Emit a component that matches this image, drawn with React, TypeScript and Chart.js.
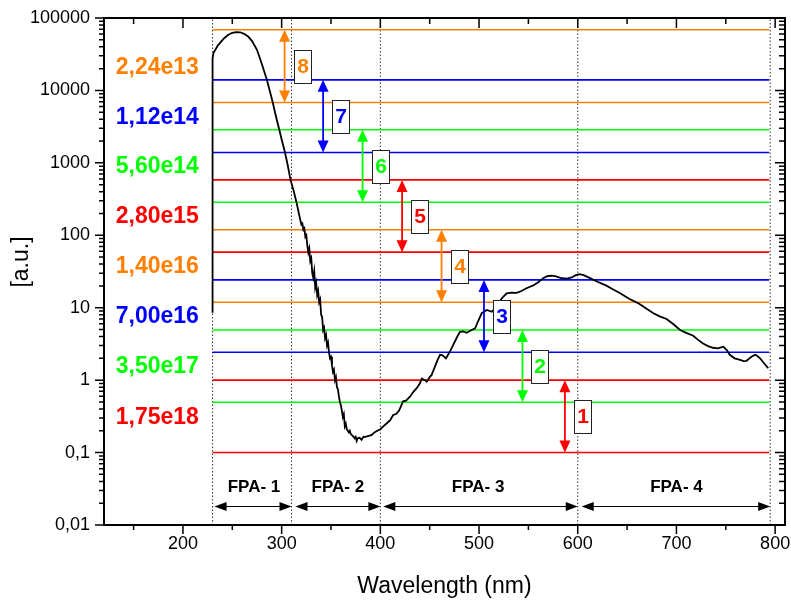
import { useEffect, useRef } from "react";
import { Chart, registerables } from "chart.js";

Chart.register(...registerables);

// ---- Data ----
const wavelength = [
  230, 230, 231, 235, 238, 242, 246, 250, 254, 258, 262, 266, 270, 275, 280, 285, 288, 291, 294, 297.6,
  300, 303.4, 306, 309, 312, 315, 318.6, 320, 321, 322, 323, 324, 325, 326, 327, 328, 329, 330, 331, 332,
  333, 334, 335, 336, 337, 338, 339, 340, 341, 342, 343, 344, 345, 346, 347, 348, 349, 350, 351, 352,
  353, 354, 355, 356, 357, 358, 359, 360, 361, 362, 363, 364, 365, 366, 368, 369, 370, 372, 374, 375,
  376, 377, 379, 381, 383, 385, 388, 391, 394, 397, 400, 403, 406, 410, 413, 416, 419, 423, 426, 430,
  433.5, 437, 440, 442, 445, 447, 450, 452, 455, 458, 460.5, 463, 466.5, 470.6, 474, 478, 480.7, 484, 487.5, 491,
  496, 499, 502.7, 507.8, 512.9, 518, 523, 528, 533, 538, 543, 548, 555, 560, 565, 569, 573.7, 578, 584, 589,
  594, 598, 602, 606, 612.5, 620, 629, 636, 643, 652, 661.5, 669, 676.7, 683, 690, 697, 703.7, 710, 717, 722,
  727, 732, 737, 742, 747.6, 751, 754, 759, 764.5, 768, 771, 776, 779.7, 782, 784.8, 789, 793,
];
const intensity = [
  8.5, 27900, 33000, 41000, 46000, 53000, 58600, 62500, 64000, 63500, 60500, 55500, 48000, 36400, 23000, 14000, 9800, 6800, 4500, 2860,
  2100, 1390, 950, 582, 420, 286, 170, 140, 145, 119, 125, 95, 100, 72, 58, 66, 44, 48, 30, 26,
  32, 19, 22, 15, 17, 11.9, 13, 8, 7.5, 4.9, 5.3, 3.8, 4.2, 3.0, 3.3, 2.4, 2.0, 2.1, 1.6, 1.3,
  1.4, 1.0, 1.1, 0.8, 0.75, 0.6, 0.5, 0.45, 0.38, 0.31, 0.34, 0.23, 0.25, 0.21, 0.19, 0.2, 0.18, 0.17, 0.158, 0.165,
  0.145, 0.158, 0.16, 0.15, 0.166, 0.165, 0.17, 0.174, 0.19, 0.2, 0.21, 0.23, 0.25, 0.28, 0.33, 0.34, 0.38, 0.51, 0.52, 0.59,
  0.69, 0.78, 0.9, 1.05, 1.0, 0.95, 1.1, 1.18, 1.5, 1.9, 2.24, 2.2, 2.0, 2.5, 3.1, 4.0, 4.65, 4.7, 4.5, 4.8,
  5.2, 6.5, 8.4, 9.3, 8.8, 10.5, 13.5, 15.8, 16.2, 16.0, 17.0, 18.6, 20.3, 22.5, 25.6, 27.2, 27.8, 27.0, 25.5, 25.2,
  26.2, 28.2, 29, 28.2, 25.6, 22.8, 20.2, 17.8, 15.8, 13.3, 11.5, 9.8, 8.4, 7.6, 7.0, 5.9, 4.93, 4.5, 4.1, 3.6,
  3.2, 2.95, 2.8, 2.75, 2.9, 2.6, 2.24, 2.0, 1.9, 1.83, 1.85, 2.1, 2.24, 2.15, 2.0, 1.7, 1.46,
];

const xTickValues = [200, 300, 400, 500, 600, 700, 800];
const xMinorTickValues = [150, 250, 350, 450, 550, 650, 750];
const yTickValues = [0.01, 0.1, 1, 10, 100, 1000, 10000, 100000];

// level pairs, bottom (1) to top (8)
const pairNumbers = ["1", "2", "3", "4", "5", "6", "7", "8"];
const doseLabels = ["1,75e18", "3,50e17", "7,00e16", "1,40e16", "2,80e15", "5,60e14", "1,12e14", "2,24e13"];
const levelLow = [0.1, 0.495, 2.43, 11.9, 58.5, 286, 1387, 6800];
const levelHigh = [1.0, 4.93, 24.2, 119, 582, 2860, 14000, 68700];
const levelColors = ["#ff0000", "#00ff00", "#0000ff", "#ff8000", "#ff0000", "#00ff00", "#0000ff", "#ff8000"];
const arrowX = [587, 544, 505, 462, 422, 382, 342, 303];
const doseLabelX = 174;
const levelLineStart = 230;
const levelLineEnd = 794;

const regionBounds = [230, 310, 400, 600, 795];
const fpaNames = ["FPA- 1", "FPA- 2", "FPA- 3", "FPA- 4"];
const fpaStart = [232, 314, 403, 604];
const fpaEnd = [310, 400, 600, 795];
const fpaLabelX = [272, 357, 499, 700];
const fpaLabelY = 0.033;
const fpaArrowY = 0.018;

const FONT = "'Liberation Sans', Arial, sans-serif";

function drawHead(ctx: CanvasRenderingContext2D, tx: number, ty: number, dx: number, dy: number, len: number, half: number) {
  const bx = tx - dx * len;
  const by = ty - dy * len;
  const nx = -dy;
  const ny = dx;
  ctx.beginPath();
  ctx.moveTo(tx, ty);
  ctx.lineTo(bx + nx * half, by + ny * half);
  ctx.lineTo(bx - nx * half, by - ny * half);
  ctx.closePath();
  ctx.fill();
}

const annotatePlugin = {
  id: "annotate",
  afterDatasetsDraw(chart: any) {
    const { ctx, scales } = chart;
    const x = scales.x;
    const y = scales.y;
    ctx.save();
    for (let i = 0; i < pairNumbers.length; i++) {
      const color = levelColors[i];
      const px = x.getPixelForValue(arrowX[i]);
      const yTop = y.getPixelForValue(levelHigh[i]);
      const yBot = y.getPixelForValue(levelLow[i]);
      const headL = 12;
      ctx.strokeStyle = color;
      ctx.fillStyle = color;
      ctx.lineWidth = 1.8;
      ctx.beginPath();
      ctx.moveTo(px, yTop + headL - 1);
      ctx.lineTo(px, yBot - headL + 1);
      ctx.stroke();
      drawHead(ctx, px, yTop, 0, -1, headL, 5.5);
      drawHead(ctx, px, yBot, 0, 1, headL, 5.5);

      const ym = y.getPixelForValue(Math.sqrt(levelLow[i] * levelHigh[i]));
      const bx = Math.round(px + 9) + 0.5;
      const bw = 17;
      const bh = 33;
      const by = Math.round(ym - bh / 2) + 0.5;
      ctx.fillStyle = "#ffffff";
      ctx.fillRect(bx, by, bw, bh);
      ctx.strokeStyle = "#222222";
      ctx.lineWidth = 1;
      ctx.strokeRect(bx, by, bw, bh);
      ctx.fillStyle = color;
      ctx.font = `bold 21px ${FONT}`;
      ctx.textAlign = "center";
      ctx.textBaseline = "middle";
      ctx.fillText(pairNumbers[i], bx + bw / 2, ym + 1);

      ctx.font = `bold 23px ${FONT}`;
      ctx.fillText(doseLabels[i], x.getPixelForValue(doseLabelX), ym + 1);
    }

    ctx.fillStyle = "#000";
    ctx.strokeStyle = "#000";
    for (let i = 0; i < fpaNames.length; i++) {
      const ay = y.getPixelForValue(fpaArrowY);
      const x0 = x.getPixelForValue(fpaStart[i]);
      const x1 = x.getPixelForValue(fpaEnd[i]);
      ctx.lineWidth = 1.2;
      ctx.beginPath();
      ctx.moveTo(x0 + 10, ay);
      ctx.lineTo(x1 - 10, ay);
      ctx.stroke();
      drawHead(ctx, x0, ay, -1, 0, 12, 4.5);
      drawHead(ctx, x1, ay, 1, 0, 12, 4.5);
      ctx.font = `bold 17px ${FONT}`;
      ctx.textAlign = "center";
      ctx.textBaseline = "middle";
      ctx.fillText(fpaNames[i], x.getPixelForValue(fpaLabelX[i]), y.getPixelForValue(fpaLabelY));
    }
    ctx.restore();
  },
  afterDraw(chart: any) {
    const { ctx, chartArea, scales } = chart;
    const x = scales.x;
    const y = scales.y;
    const { left, right, top, bottom } = chartArea;
    ctx.save();
    ctx.strokeStyle = "#000";
    ctx.lineWidth = 2;
    ctx.strokeRect(left, top, right - left, bottom - top);
    ctx.lineWidth = 1.5;
    ctx.beginPath();
    const xt = (v: number, len: number) => {
      const p = x.getPixelForValue(v);
      ctx.moveTo(p, bottom);
      ctx.lineTo(p, bottom + len);
      ctx.moveTo(p, top);
      ctx.lineTo(p, top + len + 1);
    };
    xTickValues.forEach((v) => xt(v, 9));
    xMinorTickValues.forEach((v) => xt(v, 5));
    const yt = (v: number, len: number) => {
      const p = y.getPixelForValue(v);
      ctx.moveTo(left, p);
      ctx.lineTo(left - len, p);
      ctx.moveTo(right, p);
      ctx.lineTo(right - len - 1, p);
    };
    for (let d = 0; d < yTickValues.length; d++) {
      const base = yTickValues[d];
      yt(base, 9);
      if (d < yTickValues.length - 1) {
        for (let m = 2; m <= 9; m++) yt(base * m, 5);
      }
    }
    ctx.stroke();

    ctx.translate(22, 262);
    ctx.rotate(-Math.PI / 2);
    ctx.fillStyle = "#000";
    ctx.font = `23px ${FONT}`;
    ctx.textAlign = "center";
    ctx.textBaseline = "middle";
    ctx.fillText("[a.u.]", 0, 0);
    ctx.restore();
  },
};

export default function App() {
  const canvasRef = useRef<HTMLCanvasElement | null>(null);

  useEffect(() => {
    const canvas = canvasRef.current;
    if (!canvas) return;

    const datasets: any[] = [];
    datasets.push({
      label: "spectrum",
      data: wavelength.map((w, i) => ({ x: w, y: intensity[i] })),
      borderColor: "#000",
      borderWidth: 1.8,
      pointRadius: 0,
      tension: 0,
      order: 0,
    });
    for (let i = 0; i < levelLow.length; i++) {
      [levelLow[i], levelHigh[i]].forEach((v) => {
        datasets.push({
          label: "level",
          data: [
            { x: levelLineStart, y: v },
            { x: levelLineEnd, y: v },
          ],
          borderColor: levelColors[i],
          borderWidth: 1.6,
          pointRadius: 0,
          order: 1,
        });
      });
    }
    regionBounds.forEach((b) => {
      datasets.push({
        label: "bound",
        data: [
          { x: b, y: 0.01 },
          { x: b, y: 100000 },
        ],
        borderColor: "#333",
        borderWidth: 1,
        borderDash: [1.5, 2],
        pointRadius: 0,
        order: 2,
      });
    });

    const chart = new Chart(canvas, {
      type: "line",
      data: { datasets },
      plugins: [annotatePlugin],
      options: {
        animation: false,
        responsive: false,
        devicePixelRatio: 1,
        layout: { padding: { top: 18, right: 6, left: 0, bottom: 0 } },
        plugins: { legend: { display: false }, tooltip: { enabled: false } },
        scales: {
          x: {
            type: "linear",
            min: 120,
            max: 810,
            grid: { display: false, drawTicks: false },
            border: { display: false },
            afterBuildTicks: (axis: any) => {
              axis.ticks = xTickValues.map((v) => ({ value: v }));
            },
            afterFit: (axis: any) => {
              axis.height = 75;
              axis.paddingLeft = 0;
              axis.paddingRight = 0;
              axis.paddingTop = 0;
              axis.paddingBottom = 0;
            },
            ticks: {
              color: "#000",
              padding: 8,
              maxRotation: 0,
              font: { family: FONT, size: 18 },
            },
            title: {
              display: true,
              text: "Wavelength (nm)",
              color: "#000",
              font: { family: FONT, size: 23 },
              padding: { top: 0, bottom: 0 },
            },
          },
          y: {
            type: "logarithmic",
            min: 0.01,
            max: 100000,
            grid: { display: false, drawTicks: false },
            border: { display: false },
            afterBuildTicks: (axis: any) => {
              axis.ticks = yTickValues.map((v) => ({ value: v }));
            },
            afterFit: (axis: any) => {
              axis.width = 104;
              axis.paddingLeft = 0;
              axis.paddingRight = 0;
              axis.paddingTop = 0;
              axis.paddingBottom = 0;
            },
            ticks: {
              color: "#000",
              padding: 14,
              font: { family: FONT, size: 18 },
              callback: (v: any) => String(Number(v)).replace(".", ","),
            },
          },
        },
      },
    } as any);

    return () => chart.destroy();
  }, []);

  return (
    <div style={{ position: "fixed", left: 0, top: 0, width: 791, height: 600, background: "#fff" }}>
      <canvas ref={canvasRef} width={791} height={600} style={{ display: "block" }} />
    </div>
  );
}
